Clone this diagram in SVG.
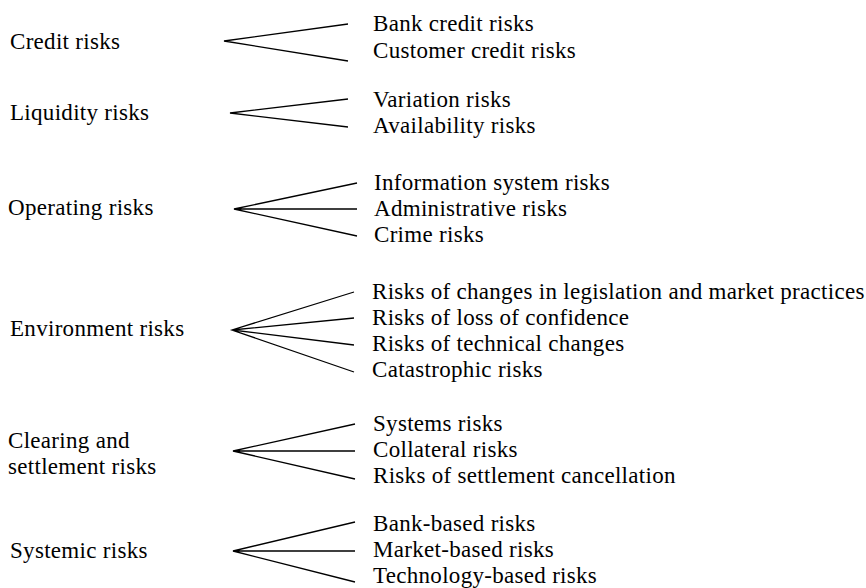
<svg xmlns="http://www.w3.org/2000/svg" width="866" height="588" viewBox="0 0 866 588">
<style>
text{font-family:'Liberation Serif',Tinos,'Times New Roman',Times,'DejaVu Serif','Noto Serif',serif;font-size:23px;letter-spacing:0.3px;fill:#000}
.c{fill:none;stroke:#000;stroke-width:1.3}
</style>
<rect width="866" height="588" fill="#fff"/>
<g id="connectors">
<path class="c" d="M348,24 L224,41 L348,61"/>
<path class="c" d="M348,99 L230,113 L348,127"/>
<path class="c" d="M357,183 L234,209 L357,236 M234,209 L357,209"/>
<path class="c" d="M354,292 L232,330 L354,372 M232,330 L354,318 M232,330 L354,345"/>
<path class="c" d="M355,424 L233,451 L355,479 M233,451 L355,451"/>
<path class="c" d="M355,522 L233,551 L355,582 M233,551 L355,551"/>
</g>
<g id="credit"><text x="10" y="49" font-family="Liberation Serif, serif">Credit risks</text></g>
<g id="credit-children"><text x="373" y="31">Bank credit risks</text><text x="373" y="58">Customer credit risks</text></g>
<g id="liquidity"><text x="10" y="120">Liquidity risks</text></g>
<g id="liquidity-children"><text x="373" y="107">Variation risks</text><text x="373" y="133">Availability risks</text></g>
<g id="operating"><text x="8" y="215">Operating risks</text></g>
<g id="operating-children"><text x="374" y="190">Information system risks</text><text x="374" y="216">Administrative risks</text><text x="374" y="242">Crime risks</text></g>
<g id="environment"><text x="10" y="336">Environment risks</text></g>
<g id="environment-children"><text x="372" y="299">Risks of changes in legislation and market practices</text><text x="372" y="325">Risks of loss of confidence</text><text x="372" y="351">Risks of technical changes</text><text x="372" y="377">Catastrophic risks</text></g>
<g id="clearing"><text x="8" y="448">Clearing and</text><text x="8" y="474">settlement risks</text></g>
<g id="clearing-children"><text x="373" y="431">Systems risks</text><text x="373" y="457">Collateral risks</text><text x="373" y="483">Risks of settlement cancellation</text></g>
<g id="systemic"><text x="10" y="558">Systemic risks</text></g>
<g id="systemic-children"><text x="373" y="531">Bank-based risks</text><text x="373" y="557">Market-based risks</text><text x="373" y="583">Technology-based risks</text></g>
</svg>
